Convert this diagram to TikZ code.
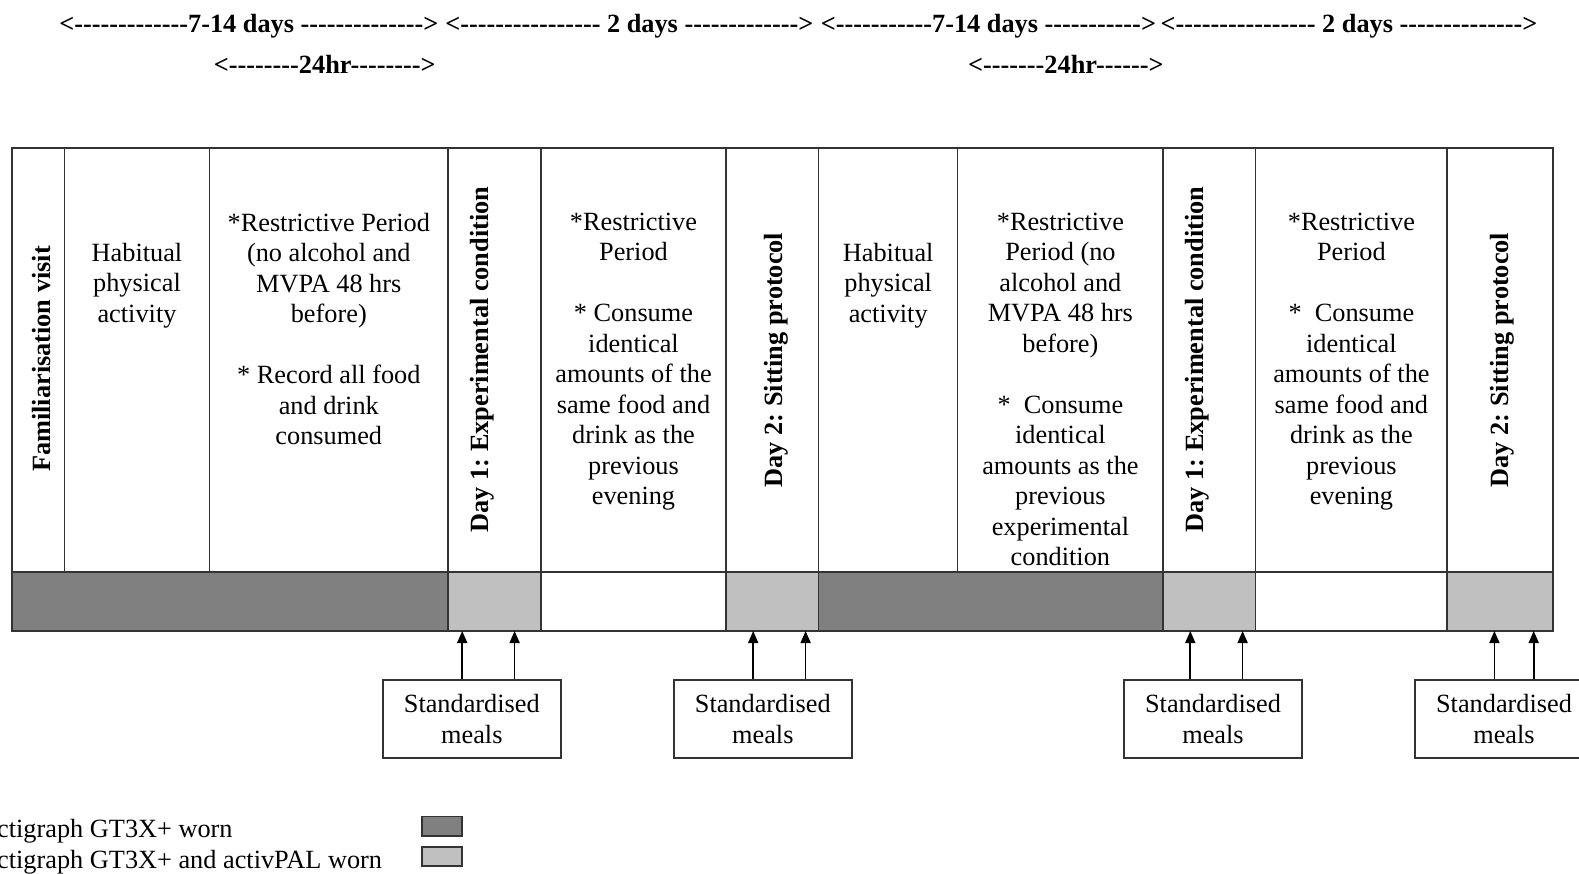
\documentclass[tikz,border=0pt]{standalone}
\usepackage{fontspec}
\setmainfont{Liberation Serif}
\usetikzlibrary{arrows.meta,calc}
\definecolor{darkseg}{HTML}{808080}
\definecolor{lightseg}{HTML}{C0C0C0}
\definecolor{edge}{HTML}{333333}
\makeatletter
\newcommand{\dashrun}[1]{\@tempcnta=#1\relax\loop\ifnum\@tempcnta>0 -\kern0pt\advance\@tempcnta by -1\relax\repeat}
\makeatother
\frenchspacing
\tikzset{
  txt/.style={font=\fontsize{26.3}{30.5}\selectfont, align=center, inner sep=0pt, anchor=north},
  vlab/.style={font=\fontsize{26.3}{30.5}\selectfont\bfseries\frenchspacing, rotate=90, anchor=base, inner sep=0pt},
  toplab/.style={font=\fontsize{26.3}{30.5}\selectfont\bfseries, anchor=base, inner sep=0pt},
  grid/.style={draw=edge, line width=1.5pt},
  meal/.style={draw=edge, line width=1.5pt, rectangle, inner sep=0pt, minimum width=178pt, minimum height=78pt, align=center, font=\fontsize{26.3}{30.5}\selectfont},
  arr/.style={draw=black, line width=1.7pt, -{Triangle[length=12pt,width=10pt]}},
  legtxt/.style={font=\fontsize{26.3}{30.5}\selectfont, anchor=base west, inner sep=0pt},
}
\begin{document}
\begin{tikzpicture}[x=1pt,y=-1pt]
\useasboundingbox (0,0) rectangle (1579,874);
\clip (0,0) rectangle (1579,874);
\fill[white] (0,0) rectangle (1579,874);

% top duration labels
\node[toplab] (d1) at (248.8,33) {<\dashrun{13}7-14 days \dashrun{14}>};
\node[toplab] (d2) at (629.4,33) {<\dashrun{16} 2 days \dashrun{13}>};
\node[toplab] (d3) at (988.4,33) {<\dashrun{11}7-14 days \dashrun{11}>};
\node[toplab] (d4) at (1348.9,33) {<\dashrun{16} 2 days \dashrun{14}>};
\node[toplab] (h1) at (324.8,73.5) {<\dashrun{8}24hr\dashrun{8}>};
\node[toplab] (h2) at (1065.9,73.5) {<\dashrun{7}24hr\dashrun{6}>};

% bottom bar fills
\fill[darkseg] (12.1,572) rectangle (448.1,631);
\fill[lightseg] (448.1,572) rectangle (540.8,631);
\fill[lightseg] (726.1,572) rectangle (818.7,631);
\fill[darkseg] (818.7,572) rectangle (1163.1,631);
\fill[lightseg] (1163.1,572) rectangle (1255.7,631);
\fill[lightseg] (1447.1,572) rectangle (1552.8,631);

% grid
\draw[grid] (12.1,148) rectangle (1552.8,631);
\draw[grid] (12.1,572) -- (1552.8,572);
\foreach \x in {448.1,540.8,726.1,818.7,1163.1,1255.7,1447.1}
  \draw[grid] (\x,148) -- (\x,631);
\foreach \x in {64.4,209.5,957.7}
  \draw[grid] (\x,148) -- (\x,572);

% vertical labels
\node[vlab] (fam) at (50,359) {Familiarisation visit};
\node[vlab] (day1a) at (488.6,359.5) {Day 1: Experimental condition};
\node[vlab] (day2a) at (782,360) {Day 2: Sitting protocol};
\node[vlab] (day1b) at (1203,359.5) {Day 1: Experimental condition};
\node[vlab] (day2b) at (1508,360) {Day 2: Sitting protocol};

% cell texts
\node[txt] (hab1) at (137,242.9) {Habitual\\physical\\activity};
\node[txt] (res1) at (328.8,212.6) {*Restrictive Period\\(no alcohol and\\MVPA 48 hrs\\before)\\[30.5pt]* Record all food\\and drink\\consumed};
\node[txt] (res2) at (633.5,212.6) {*Restrictive\\Period\\[30.5pt]* Consume\\identical\\amounts of the\\same food and\\drink as the\\previous\\evening};
\node[txt] (hab2) at (888.2,242.9) {Habitual\\physical\\activity};
\node[txt] (res3) at (1060.4,212.6) {*Restrictive\\Period (no\\alcohol and\\MVPA 48 hrs\\before)\\[30.5pt]*\ \ Consume\\identical\\amounts as the\\previous\\experimental\\condition};
\node[txt] (res4) at (1351.4,212.6) {*Restrictive\\Period\\[30.5pt]*\ \ Consume\\identical\\amounts of the\\same food and\\drink as the\\previous\\evening};

% meals boxes
\node[meal] (m1) at (471.8,719) {Standardised\\meals};
\node[meal] (m2) at (762.8,719) {Standardised\\meals};
\node[meal] (m3) at (1213,719) {Standardised\\meals};
\node[meal] (m4) at (1504,719) {Standardised\\meals};

% arrow targets on bar bottom
\coordinate (t1) at (462.2,631);
\coordinate (t2) at (514.6,631);
\coordinate (t3) at (753.2,631);
\coordinate (t4) at (805.6,631);
\coordinate (t5) at (1190.3,631);
\coordinate (t6) at (1242.6,631);
\coordinate (t7) at (1494.4,631);
\coordinate (t8) at (1533.7,631);
\draw[arr] (m1.north -| t1) -- (t1);
\draw[arr] (m1.north -| t2) -- (t2);
\draw[arr] (m2.north -| t3) -- (t3);
\draw[arr] (m2.north -| t4) -- (t4);
\draw[arr] (m3.north -| t5) -- (t5);
\draw[arr] (m3.north -| t6) -- (t6);
\draw[arr] (m4.north -| t7) -- (t7);
\draw[arr] (m4.north -| t8) -- (t8);

% legend
\node[legtxt] (l1) at (-3,837.8) {ctigraph GT3X+ worn};
\node[legtxt] (l2) at (-3,868) {ctigraph GT3X+ and activPAL worn};
\draw[grid, fill=darkseg] (421.9,816.7) rectangle (462.2,835.8);
\draw[grid, fill=lightseg] (421.9,846.9) rectangle (462.2,866);
\end{tikzpicture}
\end{document}
